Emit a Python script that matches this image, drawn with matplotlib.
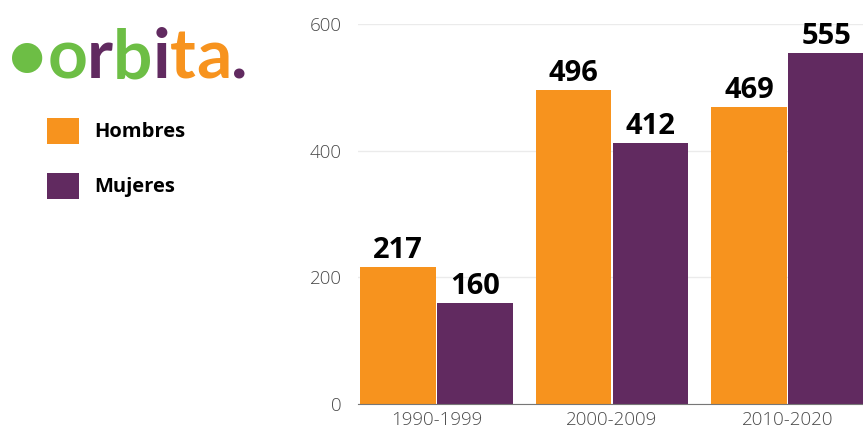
import numpy as np
import matplotlib.pyplot as plt

# data
periods = ['1990-1999', '2000-2009', '2010-2020']
hombres = [217, 496, 469]
mujeres = [160, 412, 555]
yticks = [0, 200, 400, 600]

orange = '#F7931E'
purple = '#612A60'
green = '#6DBE45'

plt.rcParams['font.family'] = ['Open Sans', 'DejaVu Sans']

fig = plt.figure(figsize=(8.63, 4.37), dpi=100)
ax = fig.add_axes([0.415, 0.0755, 0.585, 0.8695])

x = np.arange(len(periods))
w = 0.43
b1 = ax.bar(x - w / 2 - 0.005, hombres, w, color=orange, label='Hombres', zorder=2)
b2 = ax.bar(x + w / 2 + 0.005, mujeres, w, color=purple, label='Mujeres', zorder=2)

for bars in (b1, b2):
    for r in bars:
        ax.text(r.get_x() + r.get_width() / 2, r.get_height() + 3, str(int(r.get_height())),
                ha='center', va='bottom', fontsize=21, fontweight='bold', color='black')

ax.set_ylim(0, 600)
ax.set_xlim(-0.446, 2.43)
ax.set_yticks(yticks)
ax.set_xticks(x)
ax.set_xticklabels(periods)
ax.grid(axis='y', color='#ebebeb', linewidth=1, zorder=0)
ax.tick_params(length=0, labelsize=13.5, colors='#4a4a4a')
for lab in ax.get_xticklabels() + ax.get_yticklabels():
    lab.set_fontweight('light')
ax.tick_params(axis='y', pad=12)
ax.tick_params(axis='x', pad=5)
for s in ['top', 'right', 'left']:
    ax.spines[s].set_visible(False)
ax.spines['bottom'].set_color('#777777')
ax.spines['bottom'].set_linewidth(0.8)

# logo
logo = [('\u2022', green), ('o', green), ('r', purple), ('b', green),
        ('i', purple), ('t', orange), ('a', orange), ('.', purple)]
xpos = 0.008
for ch, c in logo:
    t = fig.text(xpos, 0.865, ch, fontsize=50, color=c, fontweight='bold',
                 family=['Lato', 'DejaVu Sans'], va='center', ha='left')
    fig.canvas.draw()
    bb = t.get_window_extent()
    xpos += bb.width / fig.bbox.width

fig.legend(handles=[b1, b2], loc='upper left', bbox_to_anchor=(0.033, 0.772),
           frameon=False, handlelength=1.6, handleheight=1.6,
           handletextpad=0.75, labelspacing=1.45, prop={'weight': 'bold', 'size': 14.5})

fig.savefig('out.png', dpi=100)
